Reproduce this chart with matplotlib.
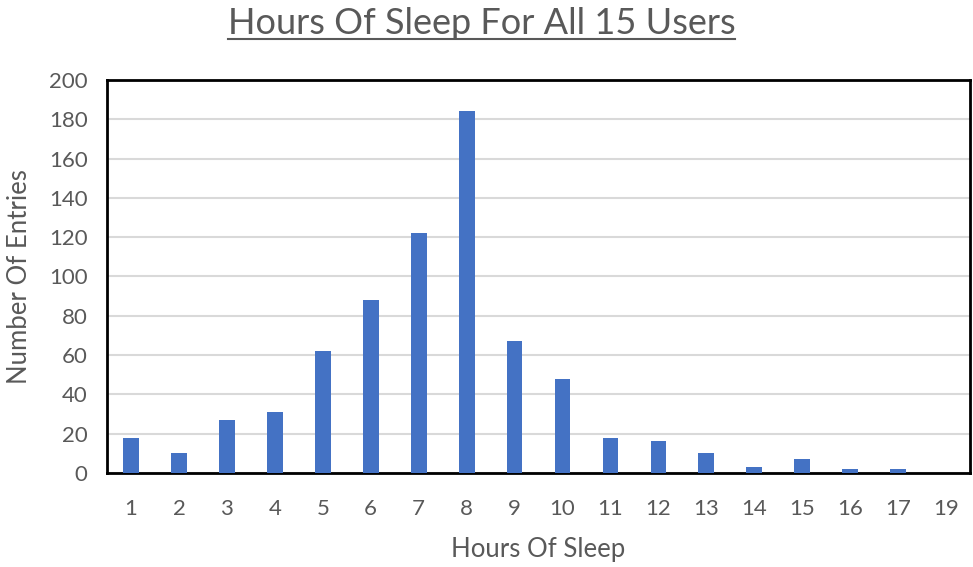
import matplotlib
matplotlib.use("Agg")
import matplotlib.pyplot as plt
from matplotlib.lines import Line2D

categories = ["1", "2", "3", "4", "5", "6", "7", "8", "9", "10",
              "11", "12", "13", "14", "15", "16", "17", "19"]
counts = [18, 10, 27, 31, 62, 88, 122, 184, 67, 48,
          18, 16, 10, 3, 7, 2, 2, 0]
yticks = list(range(0, 201, 20))

plt.rcParams['font.family'] = ['Lato', 'DejaVu Sans']
txt = '#595959'

fig = plt.figure(figsize=(9.73, 5.67), dpi=100)
ax = fig.add_axes([0.110, 0.166, 0.887, 0.693])
x = list(range(len(categories)))
ax.bar(x, counts, width=0.33, color='#4472C4', zorder=3)
ax.set_xlim(-0.5, len(categories) - 0.5)
ax.set_ylim(0, 200)
ax.set_yticks(yticks)
ax.set_xticks(x)
ax.set_xticklabels(categories)
ax.yaxis.grid(True, color='#D9D9D9', linewidth=1.5, zorder=0)
ax.tick_params(axis='both', length=0, labelsize=16, labelcolor=txt)
ax.tick_params(axis='x', pad=19)
ax.tick_params(axis='y', pad=14)
for s in ax.spines.values():
    s.set_color('black')
    s.set_linewidth(2)
ax.set_xlabel('Hours Of Sleep', fontsize=18.5, color=txt, labelpad=13)
ax.set_ylabel('Number Of Entries', fontsize=18.5, color=txt, labelpad=12)

t = fig.text(0.495, 0.958, 'Hours Of Sleep For All 15 Users', fontsize=26,
             color=txt, ha='center', va='center')
fig.canvas.draw()
bb = t.get_window_extent().transformed(fig.transFigure.inverted())
fig.add_artist(Line2D([bb.x0, bb.x1], [bb.y0 + 0.002, bb.y0 + 0.002],
                      transform=fig.transFigure, color=txt, linewidth=1.5))

fig.savefig('out.png', dpi=100)
